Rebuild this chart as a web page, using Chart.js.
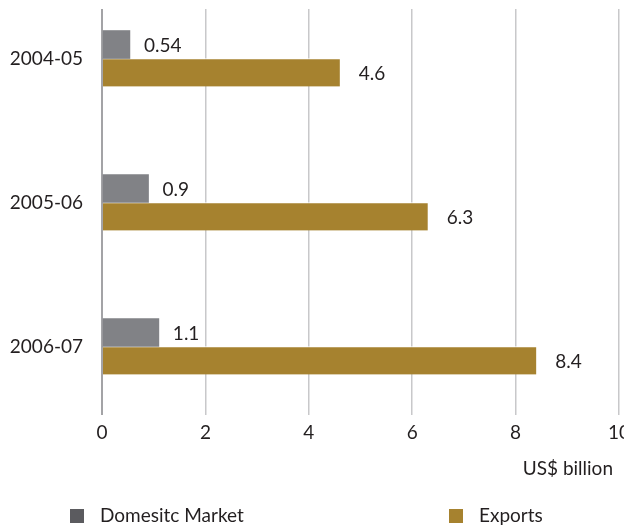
<html lang="en">
<head>
<meta charset="UTF-8">
<title>Domestic Market and Exports</title>
<script src="https://cdn.jsdelivr.net/npm/chart.js"></script>
<style>
    body {
        margin: 0;
        background: #fff;
        font-family: Lato, "Open Sans", sans-serif;
        color: #231f20;
        overflow: hidden;
    }
    #wrap {
        position: relative;
        width: 624px;
        height: 526px;
    }
    .unit {
        position: absolute;
        right: 11px;
        top: 456px;
        font-size: 19px;
    }
    .legend-item {
        position: absolute;
        top: 504px;
        font-size: 19px;
        line-height: 22px;
    }
    .legend-item span {
        display: inline-block;
        width: 14px;
        height: 14px;
        margin-right: 16px;
        vertical-align: -1px;
    }
</style>
</head>
<body>
<div id="wrap">
    <canvas id="chart"></canvas>
    <div class="unit">US$ billion</div>
    <div class="legend-item" style="left:70px"><span style="background:#5b5b5f"></span>Domesitc Market</div>
    <div class="legend-item" style="left:449px"><span style="background:#a6822f"></span>Exports</div>
</div>

<script>
    const years = ['2004-05', '2005-06', '2006-07'];
    const domestic = [0.54, 0.9, 1.1];
    const exportsVal = [4.6, 6.3, 8.4];
    const xTicks = [0, 2, 4, 6, 8, 10];

    const FONT = { family: 'Lato, "Open Sans", sans-serif', size: 19 };
    const TEXT = '#231f20';

    // value written just right of each bar
    const valueLabels = {
        id: 'valueLabels',
        afterDatasetsDraw(chart) {
            const ctx = chart.ctx;
            ctx.save();
            ctx.font = FONT.size + 'px ' + FONT.family;
            ctx.fillStyle = TEXT;
            ctx.textBaseline = 'middle';
            ctx.textAlign = 'left';
            chart.data.datasets.forEach((ds, di) => {
                const meta = chart.getDatasetMeta(di);
                meta.data.forEach((bar, i) => {
                    ctx.fillText(String(ds.data[i].x), bar.x + ds.labelOffset, bar.y + 1);
                });
            });
            ctx.restore();
        }
    };

    new Chart(document.getElementById('chart'), {
        type: 'bar',
        data: {
            datasets: [
                {
                    label: 'Domesitc Market',
                    data: domestic.map((v, i) => ({ x: v, y: i })),
                    backgroundColor: '#818286',
                    barThickness: 28,
                    labelOffset: 14
                },
                {
                    label: 'Exports',
                    data: exportsVal.map((v, i) => ({ x: v, y: i })),
                    backgroundColor: '#a6822f',
                    borderColor: '#ffffff',
                    borderWidth: { top: 1, bottom: 0, left: 0, right: 0 },
                    borderSkipped: false,
                    barThickness: 28,
                    labelOffset: 19
                }
            ]
        },
        options: {
            indexAxis: 'y',
            responsive: true,
            maintainAspectRatio: false,
            animation: false,
            layout: { padding: { top: 9, right: 5, left: 0, bottom: 71 } },
            plugins: {
                legend: { display: false },
                tooltip: { enabled: false }
            },
            scales: {
                x: {
                    type: 'linear',
                    min: 0,
                    max: 10,
                    afterBuildTicks: s => { s.ticks = xTicks.map(v => ({ value: v })); },
                    afterFit: s => { s.height = 40; s.paddingLeft = 0; s.paddingRight = 0; },
                    grid: {
                        drawTicks: false,
                        color: c => c.tick && c.tick.value === 0 ? '#a3a3a6' : '#c8c8ca',
                        lineWidth: c => c.tick && c.tick.value === 0 ? 2 : 1.5
                    },
                    border: { display: false },
                    ticks: { color: TEXT, font: FONT, padding: 6, maxRotation: 0 }
                },
                y: {
                    type: 'linear',
                    reverse: true,
                    offset: false,
                    min: -0.344,
                    max: 2.476,
                    afterBuildTicks: s => { s.ticks = years.map((y, i) => ({ value: i })); },
                    afterFit: s => { s.width = 102; s.paddingTop = 0; s.paddingBottom = 0; },
                    grid: { display: false, offset: false },
                    border: { display: false },
                    ticks: {
                        color: TEXT,
                        font: FONT,
                        padding: 11,
                        callback: v => years[v]
                    }
                }
            }
        },
        plugins: [valueLabels]
    });
</script>
</body>
</html>
